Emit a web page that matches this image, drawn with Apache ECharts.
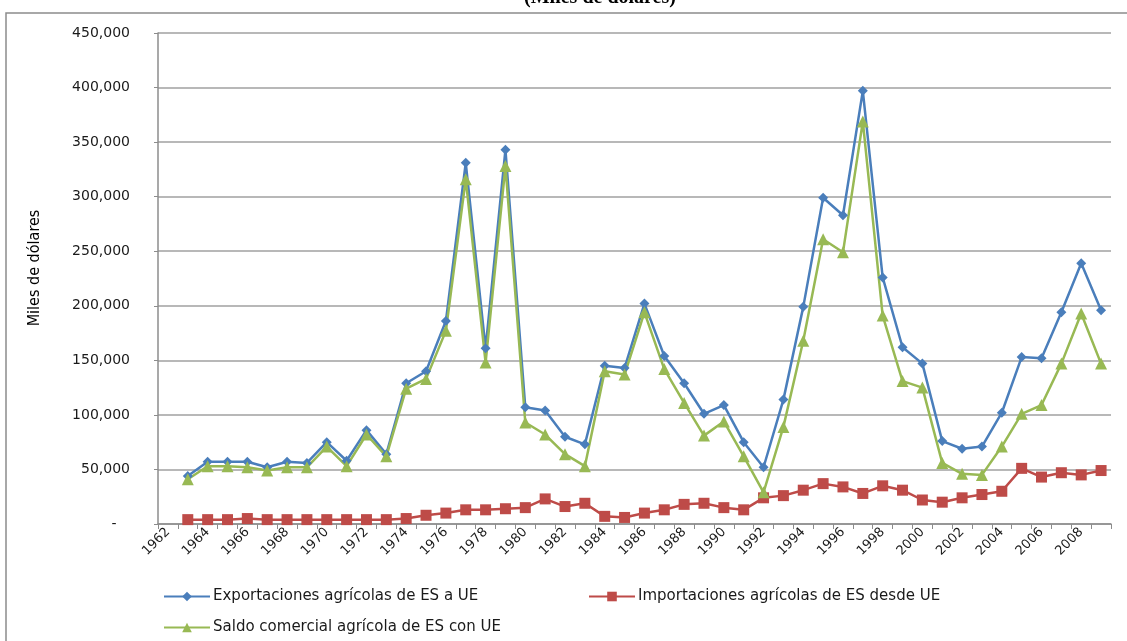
<!DOCTYPE html>
<html>
<head>
<meta charset="utf-8">
<script src="https://cdn.jsdelivr.net/npm/echarts@6/dist/echarts.min.js"></script>
<style>
  html, body { margin: 0; padding: 0; background: #ffffff; }
  #chart { width: 1127px; height: 641px; }
</style>
</head>
<body>
<div id="chart"></div>
<script>
// ---- Data ----
const years = ['1962','1963','1964','1965','1966','1967','1968','1969','1970','1971','1972','1973','1974','1975','1976','1977','1978','1979','1980','1981','1982','1983','1984','1985','1986','1987','1988','1989','1990','1991','1992','1993','1994','1995','1996','1997','1998','1999','2000','2001','2002','2003','2004','2005','2006','2007','2008','2009'];

const exportaciones = [null, 44000, 57000, 57000, 57000, 52000, 57000, 56000, 75000, 58000, 86000, 64000, 129000, 140000, 186000, 331000, 161000, 343000, 107000, 104000, 80000, 73000, 145000, 143000, 202000, 154000, 129000, 101000, 109000, 75000, 52000, 114000, 199000, 299000, 283000, 397000, 226000, 162000, 147000, 76000, 69000, 71000, 102000, 153000, 152000, 194000, 239000, 196000];

const importaciones = [null, 4000, 4000, 4000, 5000, 4000, 4000, 4000, 4000, 4000, 4000, 4000, 5000, 8000, 10000, 13000, 13000, 14000, 15000, 23000, 16000, 19000, 7000, 6000, 10000, 13000, 18000, 19000, 15000, 13000, 24000, 26000, 31000, 37000, 34000, 28000, 35000, 31000, 22000, 20000, 24000, 27000, 30000, 51000, 43000, 47000, 45000, 49000];

const saldo = [null, 41000, 53000, 53000, 52000, 49000, 52000, 52000, 71000, 53000, 82000, 62000, 124000, 133000, 177000, 316000, 148000, 328000, 93000, 82000, 64000, 53000, 140000, 137000, 194000, 142000, 111000, 81000, 94000, 62000, 29000, 89000, 168000, 261000, 249000, 369000, 191000, 131000, 125000, 56000, 46000, 45000, 71000, 101000, 109000, 147000, 193000, 147000];

const seriesNames = ['Exportaciones agrícolas de ES a UE', 'Importaciones agrícolas de ES desde UE', 'Saldo comercial agrícola de ES con UE'];
const yTicks = { min: 0, max: 450000, interval: 50000 };
const titleText = '(Miles de dólares)';
const yAxisTitle = 'Miles de dólares';

// ---- Chart ----
const chart = echarts.init(document.getElementById('chart'), null, { renderer: 'canvas' });
const legendText = { fontFamily: 'DejaVu Sans', fontSize: 15, color: '#1a1a1a', padding: [0, 0, 0, -2] };

const option = {
  backgroundColor: '#ffffff',
  animation: false,
  graphic: [
    { type: 'rect', shape: { x: 6, y: 13, width: 1140, height: 660 }, style: { fill: 'none', stroke: '#8c8c8c', lineWidth: 1.5 }, silent: true, z: -1 },
    { type: 'text', x: 600, y: -12, style: { text: titleText, font: 'bold 20px "Liberation Serif", "Times New Roman", serif', fill: '#000', align: 'center', verticalAlign: 'top' } },
    { type: 'text', x: 35, y: 268, rotation: Math.PI / 2, style: { text: yAxisTitle, font: '16px "Liberation Sans Narrow", "DejaVu Sans Condensed", "Liberation Sans", sans-serif', fill: '#000', align: 'center', verticalAlign: 'middle' } }
  ],
  grid: { left: 158, right: 16, top: 33, bottom: 117, containLabel: false },
  legend: [
    { data: [seriesNames[0]], left: 158, top: 584, itemWidth: 46, itemHeight: 12, itemGap: 5, textStyle: legendText },
    { data: [seriesNames[1]], left: 583, top: 584, itemWidth: 46, itemHeight: 12, itemGap: 5, textStyle: legendText },
    { data: [seriesNames[2]], left: 158, top: 615, itemWidth: 46, itemHeight: 12, itemGap: 5, textStyle: legendText }
  ],
  xAxis: {
    type: 'category',
    data: years,
    boundaryGap: true,
    axisLine: { lineStyle: { color: '#8c8c8c', width: 1.5 } },
    axisTick: { show: true, interval: 0, length: 5, lineStyle: { color: '#8c8c8c' } },
    axisLabel: { interval: 1, rotate: 45, fontFamily: 'DejaVu Sans', fontSize: 13, color: '#1a1a1a', margin: 6 },
    splitLine: { show: false }
  },
  yAxis: {
    type: 'value',
    min: yTicks.min, max: yTicks.max, interval: yTicks.interval,
    axisLine: { show: true, lineStyle: { color: '#8c8c8c', width: 1.5 } },
    axisTick: { show: true, length: 4, lineStyle: { color: '#8c8c8c' } },
    axisLabel: {
      fontFamily: 'DejaVu Sans', fontSize: 14, color: '#1a1a1a', margin: 28,
      formatter: v => v === 0 ? '-   ' : v.toLocaleString('en-US')
    },
    splitLine: { show: true, lineStyle: { color: '#a0a0a0', width: 1.5 } }
  },
  series: [
    { name: seriesNames[0], type: 'line', data: exportaciones, symbol: 'diamond', symbolSize: 10, color: '#4a7ebb', lineStyle: { width: 2.5 }, itemStyle: { color: '#4a7ebb' } },
    { name: seriesNames[1], type: 'line', data: importaciones, symbol: 'rect', symbolSize: 11, color: '#be4b48', lineStyle: { width: 2.5 }, itemStyle: { color: '#be4b48' } },
    { name: seriesNames[2], type: 'line', data: saldo, symbol: 'triangle', symbolSize: 12, color: '#98b954', lineStyle: { width: 2.5 }, itemStyle: { color: '#98b954' } }
  ]
};
chart.setOption(option);
</script>
</body>
</html>
